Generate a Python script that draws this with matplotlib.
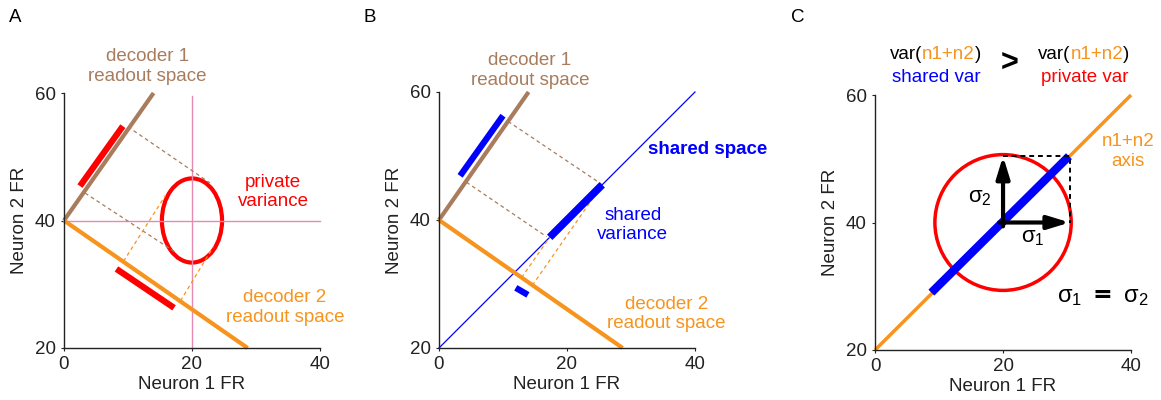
import matplotlib
matplotlib.use("Agg")
import matplotlib.pyplot as plt
from matplotlib.patches import Ellipse

plt.rcParams["font.family"] = ["Liberation Sans", "DejaVu Sans"]
plt.rcParams["mathtext.default"] = "regular"

BROWN = "#a87c5d"
ORANGE = "#f7941e"
RED = "#ff0000"
BLUE = "#0000ff"
PINK = "#e68ab3"
FS = 13.5

# decoder readout axes (Neuron 1 FR, Neuron 2 FR), shared by A and B
dec1_x = [0, 14.0]
dec1_y = [40, 60]
dec2_x = [0, 28.7]
dec2_y = [40, 20]

# panel A: private variance
a_vline_x, a_vline_y = [20, 20], [20, 59.5]
a_hline_x, a_hline_y = [0, 40], [40, 40]
a_ell_center, a_ell_w, a_ell_h = (20, 40), 9.4, 13.2
a_bar1_x, a_bar1_y = [2.5, 9.2], [45.4, 54.8]
a_bar2_x, a_bar2_y = [8.2, 17.2], [32.4, 26.3]
a_brown_dash = [([10.0, 22.8], [54.7, 45.9]), ([3.3, 17.6], [44.3, 34.9])]
a_orange_dash = [([9.3, 15.9], [33.6, 44.0]), ([18.2, 23.3], [27.4, 35.8])]

# panel B: shared variance
b_diag_x, b_diag_y = [0, 40], [20, 60]
b_shared_x, b_shared_y = [17.3, 25.5], [37.3, 45.5]
b_bar1_x, b_bar1_y = [3.3, 10.0], [46.9, 56.3]
b_bar2_x, b_bar2_y = [12.0, 13.9], [29.4, 28.3]
b_brown_dash = [([10.8, 25.4], [55.4, 45.6]), ([4.3, 16.8], [45.9, 37.4])]
b_orange_dash = [([12.9, 17.3], [31.0, 37.3]), ([14.6, 25.5], [29.8, 45.5])]

# panel C: n1+n2 axis
c_axis_x, c_axis_y = [0, 40], [20, 60]
c_shared_x, c_shared_y = [8.8, 30.3], [29.0, 50.4]
c_circle_center, c_circle_d = (20, 40), 21.3
c_sigma = 10.4
c_box_x, c_box_y = [20, 30.4, 30.4], [50.5, 50.5, 40]

xticks = [0, 20, 40]
yticks = [20, 40, 60]

fig = plt.figure(figsize=(11.61, 4.0), dpi=100)
axA = fig.add_axes([0.0551, 0.13, 0.2205, 0.6375])
axB = fig.add_axes([0.3781, 0.13, 0.2205, 0.6400])
axC = fig.add_axes([0.7537, 0.125, 0.2205, 0.6375])

for ax in (axA, axB, axC):
    ax.set_xlim(0, 40)
    ax.set_ylim(20, 60)
    ax.set_xticks(xticks)
    ax.set_yticks(yticks)
    for s in ("top", "right"):
        ax.spines[s].set_visible(False)
    for s in ("left", "bottom"):
        ax.spines[s].set_linewidth(1.0)
        ax.spines[s].set_color("#222222")
    ax.tick_params(length=2, width=0.8, pad=4, labelsize=FS, colors="#222222")
    ax.set_xlabel("Neuron 1 FR", fontsize=FS, labelpad=2, color="#222222")
    ax.set_ylabel("Neuron 2 FR", fontsize=FS, labelpad=5, color="#222222")

dash = (0, (3, 2.5))
bar = dict(solid_capstyle="butt", clip_on=False)
txt = dict(fontsize=FS, ha="center", va="center", linespacing=1.2)

# ---- A
axA.plot(a_vline_x, a_vline_y, color=PINK, lw=1, clip_on=False)
axA.plot(a_hline_x, a_hline_y, color=PINK, lw=1, clip_on=False)
for xs, ys in a_brown_dash:
    axA.plot(xs, ys, color=BROWN, lw=0.9, ls=dash)
for xs, ys in a_orange_dash:
    axA.plot(xs, ys, color=ORANGE, lw=0.9, ls=dash)
axA.plot(dec1_x, dec1_y, color=BROWN, lw=3, **bar)
axA.plot(dec2_x, dec2_y, color=ORANGE, lw=3, **bar)
axA.plot(a_bar1_x, a_bar1_y, color=RED, lw=4.5, **bar)
axA.plot(a_bar2_x, a_bar2_y, color=RED, lw=4.5, **bar)
axA.add_patch(Ellipse(a_ell_center, a_ell_w, a_ell_h, fill=False, ec=RED, lw=3))
axA.text(13.0, 64.2, "decoder 1\nreadout space", color=BROWN, **txt)
axA.text(32.7, 44.5, "private\nvariance", color=RED, **txt)
axA.text(34.5, 26.4, "decoder 2\nreadout space", color=ORANGE, **txt)

# ---- B
axB.plot(b_diag_x, b_diag_y, color=BLUE, lw=0.9, clip_on=False)
for xs, ys in b_brown_dash:
    axB.plot(xs, ys, color=BROWN, lw=0.9, ls=dash)
for xs, ys in b_orange_dash:
    axB.plot(xs, ys, color=ORANGE, lw=0.9, ls=dash)
axB.plot(dec1_x, dec1_y, color=BROWN, lw=3, **bar)
axB.plot(dec2_x, dec2_y, color=ORANGE, lw=3, **bar)
axB.plot(b_shared_x, b_shared_y, color=BLUE, lw=5.5, **bar)
axB.plot(b_bar1_x, b_bar1_y, color=BLUE, lw=4.5, **bar)
axB.plot(b_bar2_x, b_bar2_y, color=BLUE, lw=4.5, **bar)
axB.text(14.2, 63.4, "decoder 1\nreadout space", color=BROWN, **txt)
axB.text(32.7, 51.0, "shared space", color=BLUE, fontsize=FS, weight="bold",
         ha="left", va="center")
axB.text(30.3, 39.2, "shared\nvariance", color=BLUE, **txt)
axB.text(35.5, 25.3, "decoder 2\nreadout space", color=ORANGE, **txt)

# ---- C
axC.plot(c_axis_x, c_axis_y, color=ORANGE, lw=2.5, **bar)
axC.add_patch(Ellipse(c_circle_center, c_circle_d, c_circle_d, fill=False,
                      ec=RED, lw=2.5))
axC.plot(c_shared_x, c_shared_y, color=BLUE, lw=6, **bar)
axC.plot(c_box_x, c_box_y, color="k", lw=1.4, ls=(0, (2.5, 2)))
cx, cy = c_circle_center
arrow = dict(arrowstyle="-|>,head_length=1.3,head_width=0.4", lw=3, color="k",
             shrinkA=0, shrinkB=0, mutation_scale=10)
axC.annotate("", xy=(cx + c_sigma, cy), xytext=(cx - 0.6, cy), arrowprops=arrow)
axC.annotate("", xy=(cx, cy + c_sigma), xytext=(cx, cy - 0.6), arrowprops=arrow)
axC.text(16.4, 44.0, r"$\sigma_2$", fontsize=16, ha="center", va="center")
axC.text(24.7, 37.6, r"$\sigma_1$", fontsize=16, ha="center", va="center")
axC.text(35.6, 28.3, r"$\sigma_1$ $\mathbf{=}$ $\sigma_2$", fontsize=17,
         ha="center", va="center")
axC.text(39.5, 51.1, "n1+n2\naxis", color=ORANGE, **txt)


def var_label(ax, x, y):
    t1 = ax.text(x, y, "var(", fontsize=FS, ha="left", va="bottom")
    t2 = ax.annotate("n1+n2", xy=(1, 0), xycoords=t1, fontsize=FS,
                     color=ORANGE, va="bottom")
    ax.annotate(")", xy=(1, 0), xycoords=t2, fontsize=FS, va="bottom")


var_label(axC, 2.3, 65.0)
axC.text(9.5, 62.7, "shared var", color=BLUE, **txt)
axC.text(21.1, 64.9, ">", fontsize=22, weight="bold", ha="center", va="center")
var_label(axC, 25.5, 65.0)
axC.text(32.8, 62.7, "private var", color=RED, **txt)

for label, px in (("A", 15), ("B", 370), ("C", 798)):
    fig.text(px / 1161, 1 - 18 / 400, label, fontsize=FS, ha="center",
             va="center")

fig.savefig("out.png", dpi=100)
